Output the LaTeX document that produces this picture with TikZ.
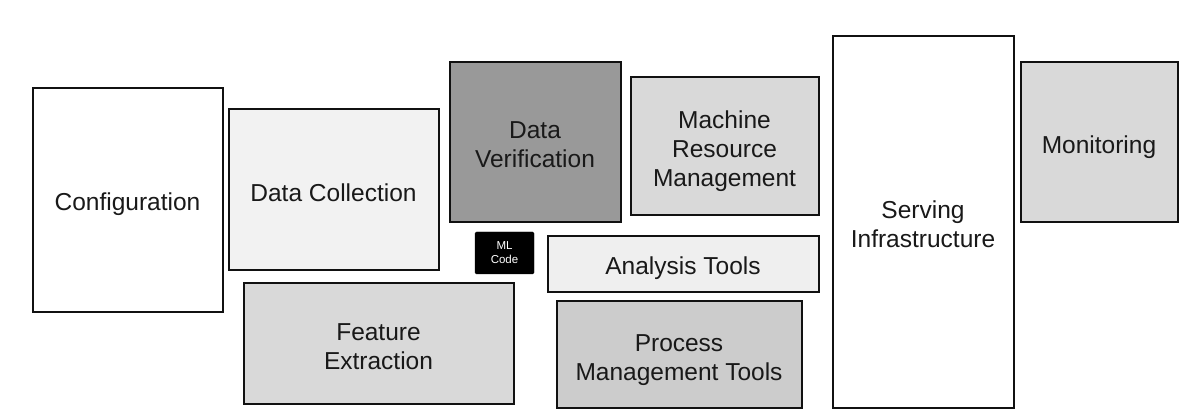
\documentclass[tikz,border=0pt]{standalone}
\usepackage{fontspec}
\setmainfont{Liberation Sans}
\definecolor{lightA}{HTML}{F2F2F2}
\definecolor{lightB}{HTML}{EFEFEF}
\definecolor{midA}{HTML}{D9D9D9}
\definecolor{midB}{HTML}{CCCCCC}
\definecolor{darkA}{HTML}{999999}
\definecolor{edge}{HTML}{111111}
\begin{document}
\begin{tikzpicture}[x=1pt,y=-1pt,
  box/.style={draw=edge, line width=2pt, rectangle, inner sep=0pt},
  boxtext/.style={align=center, inner sep=0pt,
    font=\fontsize{24.5}{29}\selectfont, text=black!90},
  mlbox/.style={draw=black, fill=black, rounded corners=1.5pt, align=center, inner sep=0pt,
    font=\fontsize{11.5}{14}\selectfont, text=white}]
\useasboundingbox (0,0) rectangle (1200,419);
\fill[white] (0,0) rectangle (1200,419);
\newcommand{\bx}[8]{%
  \node[box, fill=#6, minimum width={#3-#2-1}, minimum height={#5-#4-1}] (#1) at ({(#2+#3)/2},{(#4+#5)/2}) {};
  \node[boxtext] (#1-text) at ([yshift=-#8pt]#1.center) {#7};}
\bx{config}{32}{223}{88}{313}{white}{Configuration}{4}
\bx{collect}{228}{439}{109}{271}{lightA}{Data Collection}{3}
\bx{feature}{243}{514}{283}{405}{midA}{Feature\\Extraction}{3}
\bx{verify}{449}{621}{62}{223}{darkA}{Data\\Verification}{2}
\bx{machine}{630}{819}{77}{216}{midA}{Machine\\Resource\\Management}{5}
\bx{analysis}{547}{819}{236}{293}{lightB}{Analysis Tools}{4}
\bx{process}{556}{802}{301}{409}{midB}{Process\\Management Tools}{5}
\bx{serving}{832}{1014}{36}{409}{white}{Serving\\Infrastructure}{2}
\bx{monitor}{1020}{1178}{62}{223}{midA}{Monitoring}{5}
\node[mlbox, minimum width=59, minimum height=42] (ml) at (504.5,253) {ML\\Code};
\end{tikzpicture}
\end{document}
